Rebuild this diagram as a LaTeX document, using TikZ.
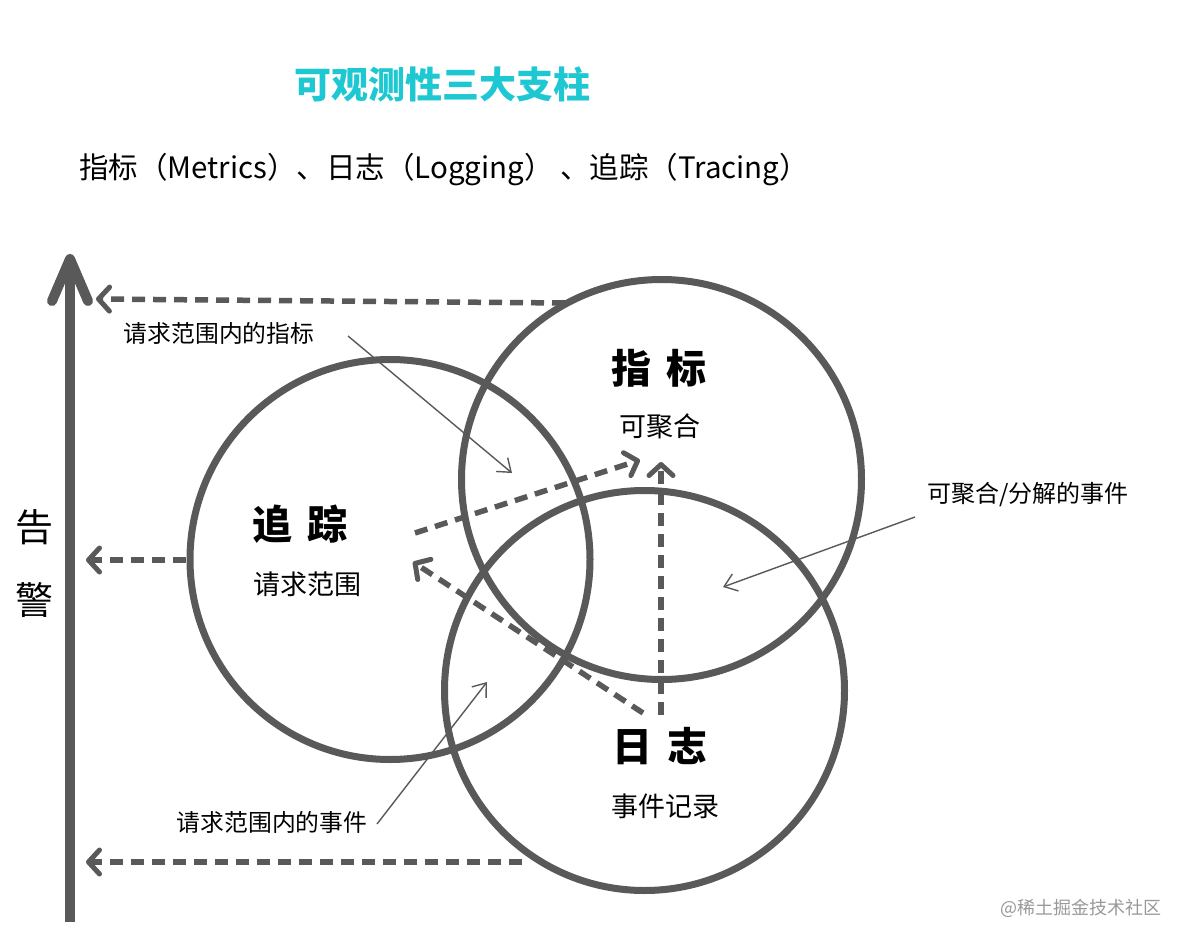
\documentclass[tikz,border=0pt]{standalone}
\usepackage{fontspec}
\newfontfamily\cjk{Noto Sans CJK SC}
\usetikzlibrary{arrows.meta}
\definecolor{ln}{HTML}{595959}
\definecolor{ttl}{HTML}{1EC8D2}
\begin{document}
\begin{tikzpicture}[x=1pt,y=-1pt,
  txt/.style={font=\cjk, inner sep=0pt, text=black},
  ring/.style={circle, draw=ln, line width=7pt, minimum size=400pt, inner sep=0pt},
  dasharrow/.style={draw=ln, line width=5.5pt, dash pattern=on 13pt off 8pt,
    -{Straight Barb[length=11pt,width=24pt,line width=5pt,round]}},
  thinarrow/.style={draw=ln, line width=1.4pt,
    -{Straight Barb[length=12pt,width=18pt,line width=1.4pt]}},
  axisarrow/.style={draw=ln, line width=10pt,
    -{Straight Barb[length=42pt,width=36pt,line width=10pt,round]}}]
\useasboundingbox (0,0) rectangle (1186,944);
\fill[white] (0,0) rectangle (1186,944);

% title and subtitle
\node[txt, text=ttl, font=\cjk\bfseries\fontsize{37}{42}\selectfont] (title) at (442,84) {可观测性三大支柱};
\node[txt, anchor=west, font=\cjk\fontsize{29.5}{34}\selectfont] (sub) at (79,170) {指标（Metrics）、日志（Logging） 、追踪（Tracing）};

% circles
\node[ring] (trace) at (390,559.5) {};
\node[ring] (metric) at (661.5,479.5) {};
\node[ring] (log) at (644.5,690.5) {};

% axis
\coordinate (axbot) at (70,922);
\coordinate (axtop) at (70,254);
\draw[axisarrow] (axbot) -- (axtop);
\node[txt, font=\cjk\fontsize{38}{40}\selectfont] (gao) at (34,527) {告};
\node[txt, font=\cjk\fontsize{38}{40}\selectfont] (jing) at (34,600) {警};

% arrows to axis
\coordinate (mstart) at (565,303);
\coordinate (mend) at (96,299);
\coordinate (tstart) at (186,560);
\coordinate (tend) at (86,560);
\coordinate (lstart) at (522,862);
\coordinate (lend) at (86,862);
\draw[dasharrow] (mstart) -- (mend);
\draw[dasharrow] (tstart) -- (tend);
\draw[dasharrow] (lstart) -- (lend);

% inner dashed arrows
\coordinate (t2m) at (415,533);
\coordinate (t2mend) at (640,460);
\coordinate (l2m) at (661,715);
\coordinate (l2mend) at (661,462);
\coordinate (l2t) at (643,713);
\coordinate (l2tend) at (413,562);
\draw[dasharrow] (t2m) -- (t2mend);
\draw[dasharrow] (l2m) -- (l2mend);
\draw[dasharrow] (l2t) -- (l2tend);

% circle labels
\node[txt, font=\cjk\bfseries\fontsize{40}{44}\selectfont] (mt) at (659,368) {指\hspace{0.4em}标};
\node[txt, font=\cjk\fontsize{27}{30}\selectfont] (ms) at (660,426) {可聚合};
\node[txt, font=\cjk\bfseries\fontsize{40}{44}\selectfont] (tt) at (300,524) {追\hspace{0.4em}踪};
\node[txt, font=\cjk\fontsize{27}{30}\selectfont] (ts) at (307,584) {请求范围};
\node[txt, font=\cjk\bfseries\fontsize{40}{44}\selectfont] (lt) at (660,746) {日\hspace{0.4em}志};
\node[txt, font=\cjk\fontsize{27}{30}\selectfont] (ls) at (665,806) {事件记录};

% annotation labels
\node[txt, font=\cjk\fontsize{23.8}{26}\selectfont] (a1) at (219,333) {请求范围内的指标};
\node[txt, font=\cjk\fontsize{23.8}{26}\selectfont] (a2) at (272,822) {请求范围内的事件};
\node[txt, font=\cjk\fontsize{24}{26}\selectfont] (a3) at (1028,495) {可聚合/分解的事件};

\coordinate (a1s) at (348,336);
\coordinate (a1e) at (512,473);
\coordinate (a2s) at (377,824);
\coordinate (a2e) at (487,682);
\coordinate (a3s) at (915,517);
\coordinate (a3e) at (723,587);
\draw[thinarrow] (a1s) -- (a1e);
\draw[thinarrow] (a2s) -- (a2e);
\draw[thinarrow] (a3s) -- (a3e);

% watermark
\node[txt, text=black!40, font=\cjk\fontsize{18}{20}\selectfont] (wm) at (1081,908) {@稀土掘金技术社区};
\end{tikzpicture}
\end{document}
